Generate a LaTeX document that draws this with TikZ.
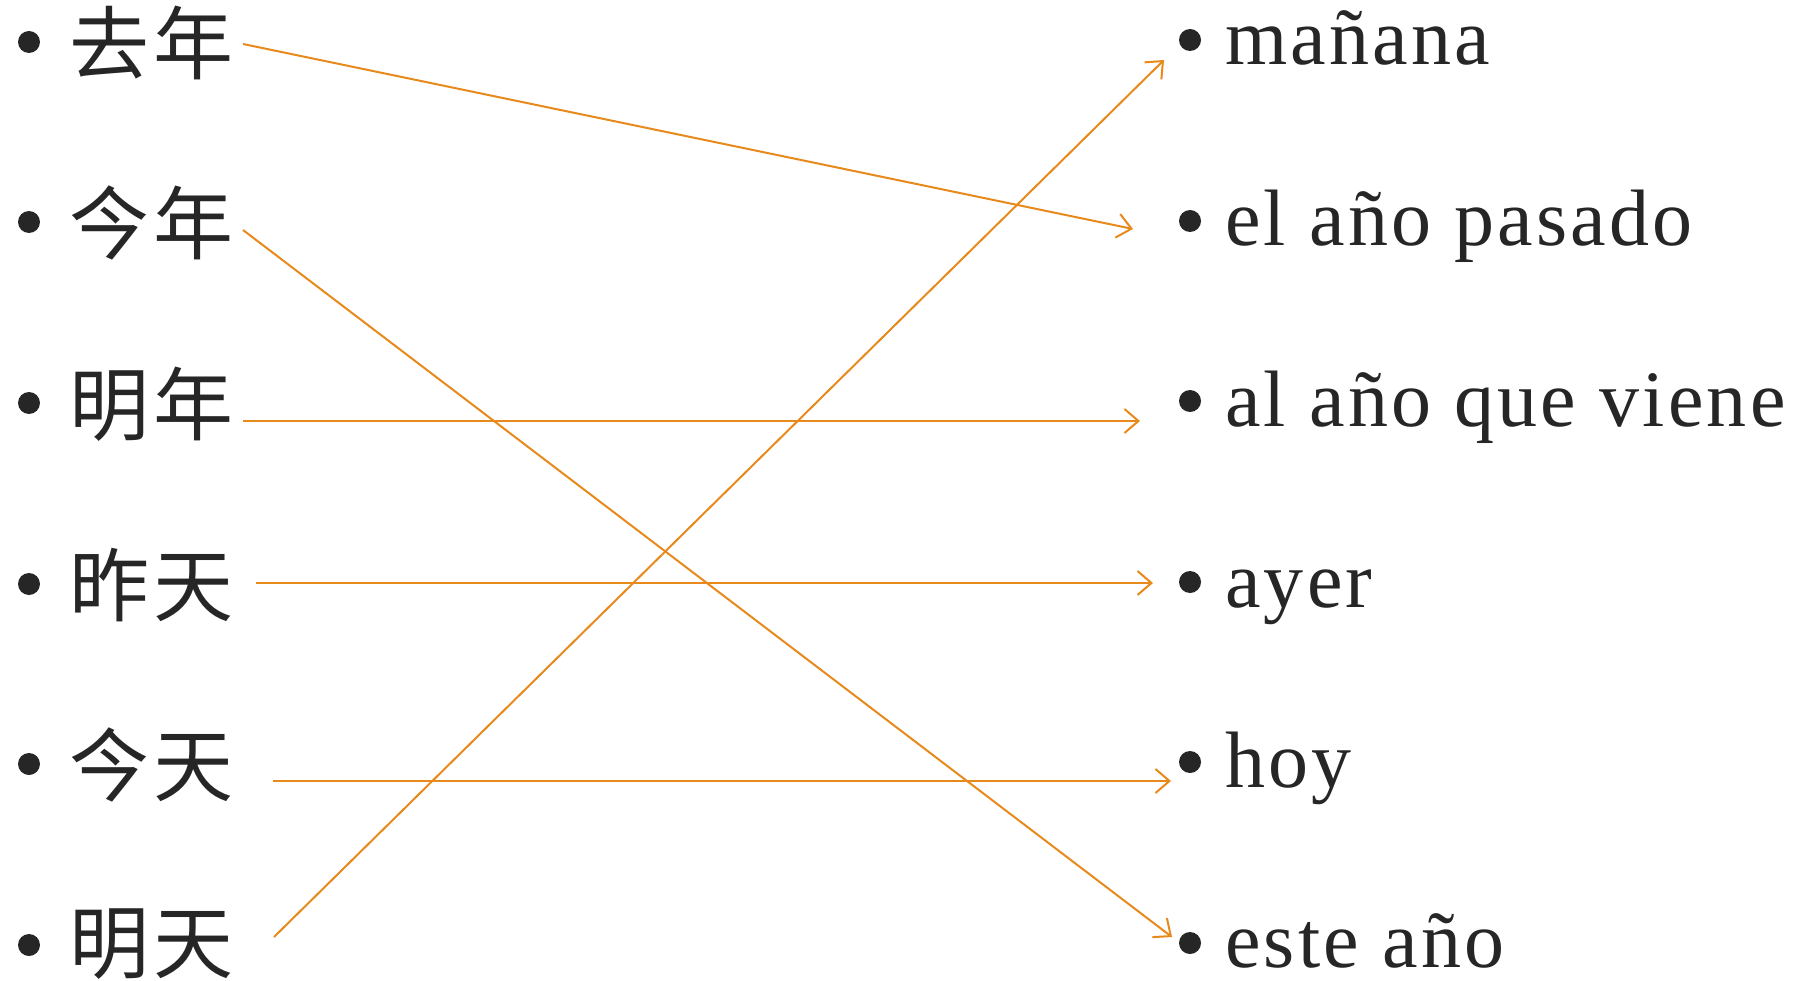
\documentclass[tikz,border=0pt]{standalone}
\usepackage{fontspec}
\setmainfont{Liberation Serif}
\newfontfamily\cjkf[LetterSpace=6]{Noto Sans CJK SC}
\newfontfamily\esf[LetterSpace=4]{Liberation Serif}
\usetikzlibrary{arrows.meta,calc}
\definecolor{ink}{HTML}{262626}
\definecolor{arr}{HTML}{E8891C}
\tikzset{
  zh/.style={anchor=west, inner sep=0pt, font=\cjkf\fontsize{80}{80}\selectfont, text=ink},
  es/.style={anchor=base west, inner sep=0pt, font=\esf\fontsize{80}{80}\selectfont, text=ink},
  bul/.style={circle, fill=ink, inner sep=0pt, minimum size=22pt},
  link/.style={draw=arr, line width=2pt, -{Straight Barb[length=14pt,width=24pt,line width=2pt]}}
}
\begin{document}
\begin{tikzpicture}[x=1pt,y=-1pt]
\useasboundingbox (0,0) rectangle (1803,981);
% left column
\node[bul] (lb1) at (29,42) {};
\node[bul] (lb2) at (29,222) {};
\node[bul] (lb3) at (29,403) {};
\node[bul] (lb4) at (29,584) {};
\node[bul] (lb5) at (29,764) {};
\node[bul] (lb6) at (29,945) {};
\node[zh] (z1) at (69,43) {去年};
\node[zh] (z2) at (69,223) {今年};
\node[zh] (z3) at (69,404) {明年};
\node[zh] (z4) at (69,585) {昨天};
\node[zh] (z5) at (69,765) {今天};
\node[zh] (z6) at (69,944) {明天};
% right column
\node[bul] (rb1) at (1190,40) {};
\node[bul] (rb2) at (1190,221) {};
\node[bul] (rb3) at (1190,401) {};
\node[bul] (rb4) at (1190,582) {};
\node[bul] (rb5) at (1190,762) {};
\node[bul] (rb6) at (1190,943) {};
\node[es] (s1) at (1225,65) {mañana};
\node[es] (s2) at (1225,246) {el año pasado};
\node[es] (s3) at (1225,426) {al año que viene};
\node[es] (s4) at (1225,607) {ayer};
\node[es] (s5) at (1225,787) {hoy};
\node[es] (s6) at (1225,967) {este año};
% connector ends
\coordinate (a1) at (243,44);   \coordinate (b1) at (1133,229);
\coordinate (a2) at (243,230);  \coordinate (b2) at (1172,937);
\coordinate (a3) at (243,421);  \coordinate (b3) at (1140,421);
\coordinate (a4) at (256,583);  \coordinate (b4) at (1153,583);
\coordinate (a5) at (273,781);  \coordinate (b5) at (1171,781);
\coordinate (a6) at (274,937);  \coordinate (b6) at (1164,60);
\draw[link] (a1) -- (b1);
\draw[link] (a2) -- (b2);
\draw[link] (a3) -- (b3);
\draw[link] (a4) -- (b4);
\draw[link] (a5) -- (b5);
\draw[link] (a6) -- (b6);
\end{tikzpicture}
\end{document}
